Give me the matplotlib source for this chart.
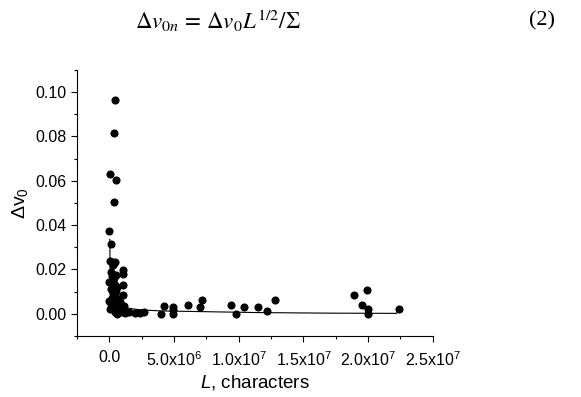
import numpy as np
import matplotlib
matplotlib.use("Agg")
import matplotlib.pyplot as plt
from matplotlib.ticker import MultipleLocator, FixedLocator, FixedFormatter

plt.rcParams['font.family'] = ['Liberation Sans', 'DejaVu Sans']
plt.rcParams['mathtext.fontset'] = 'custom'
plt.rcParams['mathtext.rm'] = 'Liberation Sans'
plt.rcParams['mathtext.it'] = 'Liberation Sans:italic'
plt.rcParams['mathtext.bf'] = 'Liberation Sans:bold'

# scatter data (L in characters, dv0)
L_pts = [0.41e6, 0.33e6, 0.03e6, 0.54e6, 0.33e6, 0.0, 0.15e6, 0.23e6,
         0.02e6, 0.45e6, 0.3e6, 1.05e6, 1.05e6, -0.05e6, 1.05e6, 1.05e6,
         0.0, 0.1e6, 0.2e6, 0.35e6, 0.5e6, 0.25e6, 0.4e6, 0.6e6, 0.15e6,
         0.3e6, 0.45e6, 0.55e6, 0.2e6, 0.1e6, 0.35e6, 0.6e6, 0.7e6, 0.8e6,
         0.9e6, 1.15e6, 0.25e6, 0.5e6, 0.75e6, 0.05e6, 0.4e6, 0.65e6,
         0.6e6, 1.0e6, 1.2e6, 1.5e6, 2.0e6, 2.4e6, 2.7e6,
         4.0e6, 4.23e6, 4.95e6, 4.95e6, 4.95e6, 6.1e6, 7.0e6, 7.15e6,
         9.4e6, 9.77e6, 10.4e6, 11.5e6, 12.2e6, 12.8e6,
         18.9e6, 19.95e6, 19.56e6, 19.97e6, 19.97e6, 22.4e6]
dv0_pts = [0.0965, 0.0814, 0.063, 0.0605, 0.0505, 0.0373, 0.0314, 0.0236,
           0.0238, 0.0236, 0.022, 0.0197, 0.0181, 0.0142, 0.0130, 0.0086,
           0.006, 0.019, 0.017, 0.016, 0.0175, 0.0145, 0.013, 0.012, 0.011,
           0.0095, 0.009, 0.0105, 0.007, 0.0045, 0.006, 0.0065, 0.004, 0.0055,
           0.003, 0.0036, 0.003, 0.002, 0.0015, 0.002, 0.0008, 0.0025,
           0.0, 0.001, 0.0005, 0.001, 0.0003, 0.0003, 0.0006,
           0.0, 0.0035, 0.0032, 0.0017, 0.0, 0.0039, 0.0029, 0.0062,
           0.0041, 0.0, 0.0032, 0.0033, 0.0011, 0.0062,
           0.0083, 0.0108, 0.0039, 0.002, 0.0, 0.002]

# fitted curve
fit_L = [0.04e6, 0.06e6, 0.08e6, 0.2e6, 0.38e6, 0.85e6, 1.6e6, 2.4e6,
         4.0e6, 7.0e6, 11.6e6, 17.0e6, 22.2e6, 22.4e6]
fit_dv0 = [0.0336, 0.015, 0.0077, 0.006, 0.005, 0.0034, 0.0024, 0.0018,
           0.0013, 0.001, 0.00055, 0.0003, 0.0002, 0.002]

x_ticks = [0, 5e6, 1e7, 1.5e7, 2e7, 2.5e7]
x_labels = ['0.0', r'5.0x10$^{6}$', r'1.0x10$^{7}$', r'1.5x10$^{7}$',
            r'2.0x10$^{7}$', r'2.5x10$^{7}$']

fig = plt.figure(figsize=(5.81, 3.97), dpi=100)
ax = fig.add_axes([0.1325, 0.1537, 0.6125, 0.67])

ax.plot(fit_L, fit_dv0, color='black', lw=0.8, zorder=2)
ax.scatter(L_pts, dv0_pts, s=34, color='black', zorder=3, linewidths=0)

ax.set_xlim(-2.5e6, 2.5e7)
ax.set_ylim(-0.01, 0.11)
ax.xaxis.set_major_locator(FixedLocator(x_ticks))
ax.xaxis.set_major_formatter(FixedFormatter(x_labels))
ax.xaxis.set_minor_locator(MultipleLocator(2.5e6))
ax.yaxis.set_major_locator(MultipleLocator(0.02))
ax.yaxis.set_minor_locator(MultipleLocator(0.01))
ax.yaxis.set_major_formatter(matplotlib.ticker.FormatStrFormatter('%.2f'))

for s in ['top', 'right']:
    ax.spines[s].set_visible(False)
for s in ['left', 'bottom']:
    ax.spines[s].set_linewidth(0.8)
ax.tick_params(which='major', direction='out', length=4, width=0.8, labelsize=11.5)
ax.tick_params(axis='x', which='major', pad=6)
ax.tick_params(which='minor', direction='out', length=2, width=0.8)

ax.set_xlabel('$L$, characters', fontsize=13.5, labelpad=3)
ax.set_ylabel(r'$\Delta$v$_0$', fontsize=14, labelpad=4)

fig.text(0.375, 0.948, r'$\Delta v_{0n}\,=\,\Delta v_0 L^{1/2}/\Sigma$',
         ha='center', va='center', fontsize=16.5, math_fontfamily='stix')
fig.text(0.955, 0.948, '(2)', ha='right', va='center', fontsize=16,
         family='Liberation Serif')

fig.savefig('out.png', dpi=100)
